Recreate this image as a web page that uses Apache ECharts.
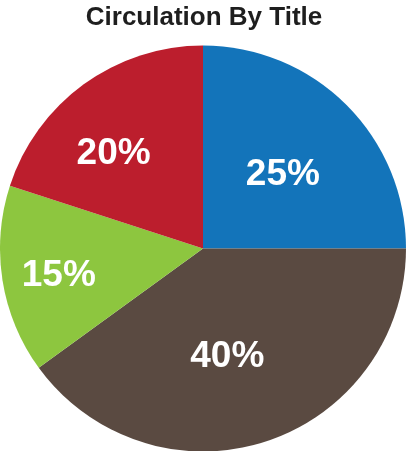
<!DOCTYPE html>
<html>
<head>
<meta charset="utf-8">
<script src="https://cdn.jsdelivr.net/npm/echarts@6/dist/echarts.min.js"></script>
<style>
html,body{margin:0;padding:0;background:#fff;}
#chart{width:408px;height:451px;}
</style>
</head>
<body>
<div id="chart"></div>
<script>
var titleText = 'Circulation By Title';
var categories = ['Title A', 'Title B', 'Title C', 'Title D'];
var shares = [25, 40, 15, 20];
var colors = ['#1374BA', '#5A4A41', '#8DC63F', '#BC1E2D'];
var labelOffsets = [[6, 0], [-8, 9], [-41, 11], [-28, -10]];

var chart = echarts.init(document.getElementById('chart'), null, {renderer: 'canvas'});
chart.setOption({
  animation: false,
  title: {
    text: titleText,
    left: 'center',
    top: 0,
    textStyle: {fontFamily: 'Liberation Sans, Arial, sans-serif', fontWeight: 'bold', fontSize: 26, color: '#1e1e1e'}
  },
  series: [{
    type: 'pie',
    center: [203, 248.5],
    radius: 203,
    startAngle: 90,
    clockwise: true,
    avoidLabelOverlap: false,
    itemStyle: {borderWidth: 0},
    emphasis: {disabled: true},
    label: {
      show: true,
      position: 'inside',
      formatter: '{d}%',
      color: '#ffffff',
      fontFamily: 'Liberation Sans, Arial, sans-serif',
      fontWeight: 'bold',
      fontSize: 37
    },
    labelLine: {show: false},
    data: categories.map(function (c, i) {
      return {
        name: c,
        value: shares[i],
        itemStyle: {color: colors[i]},
        label: {offset: labelOffsets[i]}
      };
    })
  }]
});
</script>
</body>
</html>
